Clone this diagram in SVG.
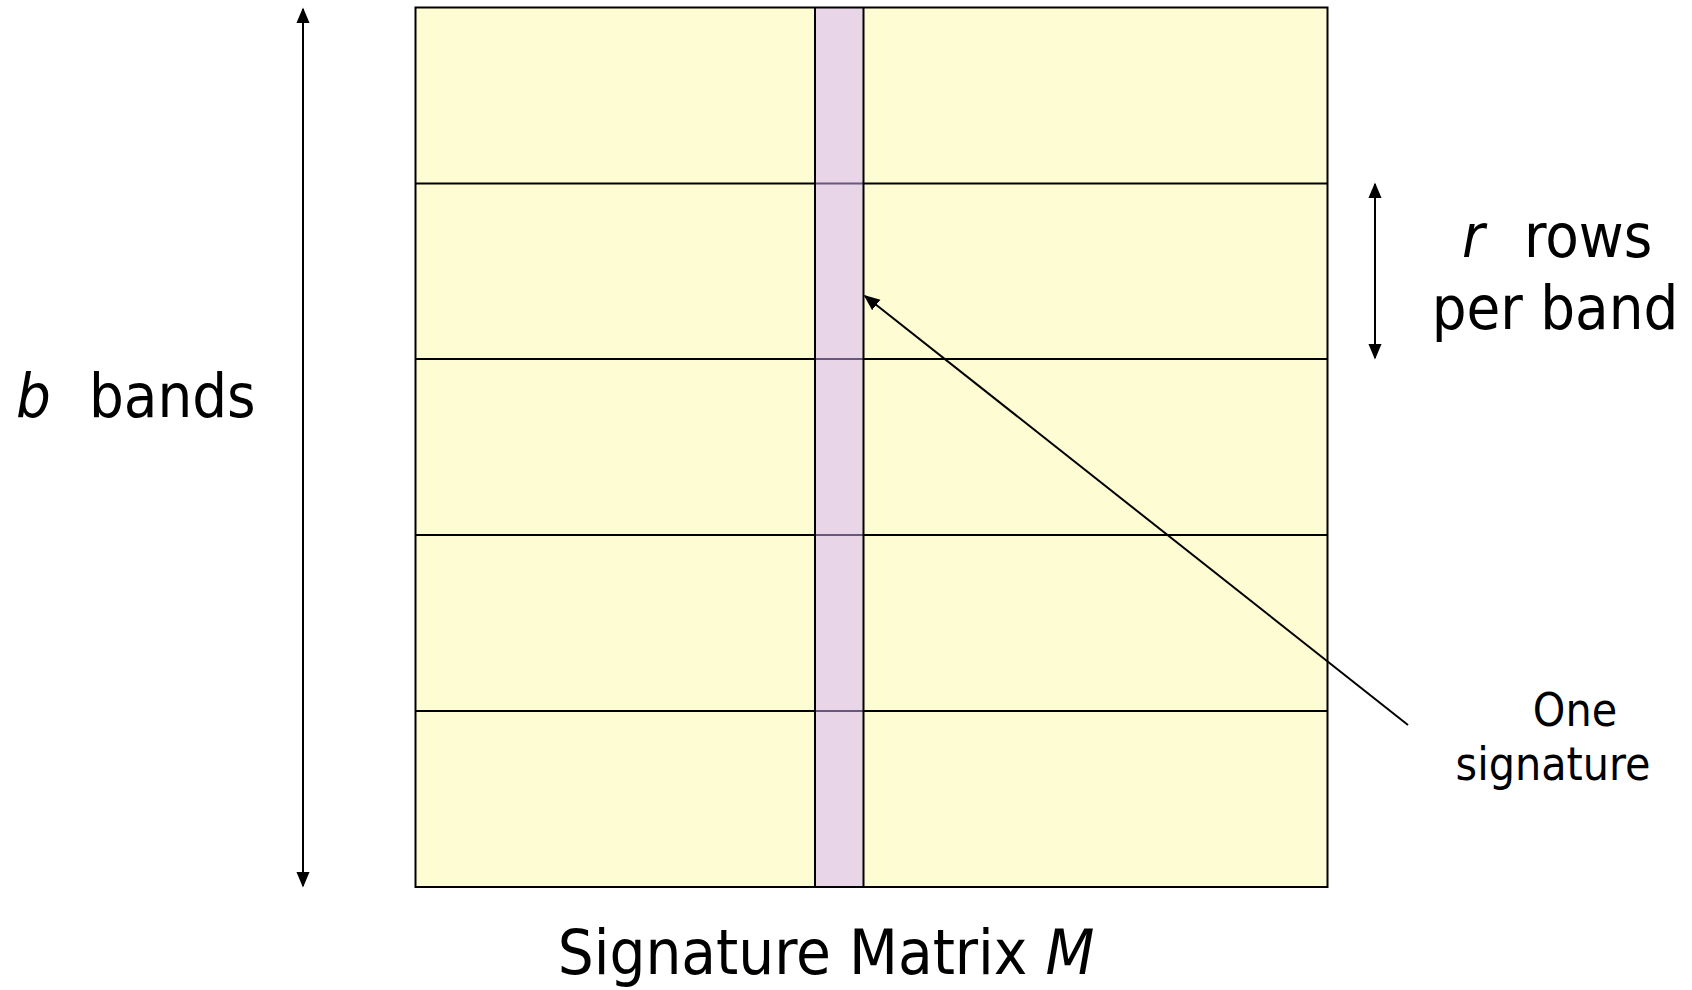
<svg xmlns="http://www.w3.org/2000/svg" width="1692" height="990" viewBox="0 0 1692 990">
<style>
.ln{stroke:#000;stroke-width:2;fill:none}
.txt{font-family:"DejaVu Sans Condensed","DejaVu Sans",sans-serif;fill:#000}
.it{font-style:italic}
</style>
<defs>
<marker id="ah2" viewBox="0 0 10 10" refX="9" refY="5" markerWidth="16" markerHeight="16" orient="auto-start-reverse" markerUnits="userSpaceOnUse">
<path d="M0,0.8 L10,5 L0,9.2 z" fill="#000"/>
</marker>
</defs>
<rect width="1692" height="990" fill="#fff"/>
<g id="matrix">
<rect x="415.5" y="7.5" width="912" height="879.5" fill="#FEFCD3"/>
<line class="ln" x1="415.5" y1="183.5" x2="1327.5" y2="183.5"/>
<line class="ln" x1="415.5" y1="359" x2="1327.5" y2="359"/>
<line class="ln" x1="415.5" y1="535" x2="1327.5" y2="535"/>
<line class="ln" x1="415.5" y1="711" x2="1327.5" y2="711"/>
<rect x="815" y="7.5" width="48.5" height="879.5" fill="#D2AEFE" fill-opacity="0.5"/>
<line class="ln" x1="815" y1="7.5" x2="815" y2="887"/>
<line class="ln" x1="863.5" y1="7.5" x2="863.5" y2="887"/>
<rect x="415.5" y="7.5" width="912" height="879.5" class="ln" stroke-width="2.5"/>
</g>
<g id="connectors">
<line class="ln" x1="303" y1="9" x2="303" y2="886" marker-start="url(#ah2)" marker-end="url(#ah2)"/>
<line class="ln" x1="1375" y1="184" x2="1375" y2="358" marker-start="url(#ah2)" marker-end="url(#ah2)"/>
<line class="ln" x1="1408" y1="725" x2="865" y2="296" marker-end="url(#ah2)"/>
</g>
<g id="labels">
<text class="txt" x="16" y="417" font-size="61"><tspan class="it">b</tspan><tspan x="89">bands</tspan></text>
<text class="txt" x="1462" y="257" font-size="61"><tspan class="it">r</tspan><tspan x="1524">rows</tspan></text>
<text class="txt" x="1555" y="329" font-size="61" text-anchor="middle">per band</text>
<text class="txt" x="1575" y="726" font-size="46" text-anchor="middle">One</text>
<text class="txt" x="1553" y="780" font-size="46" text-anchor="middle">signature</text>
<text class="txt" x="826" y="974" font-size="63" text-anchor="middle">Signature Matrix <tspan class="it">M</tspan></text>
</g>
</svg>
